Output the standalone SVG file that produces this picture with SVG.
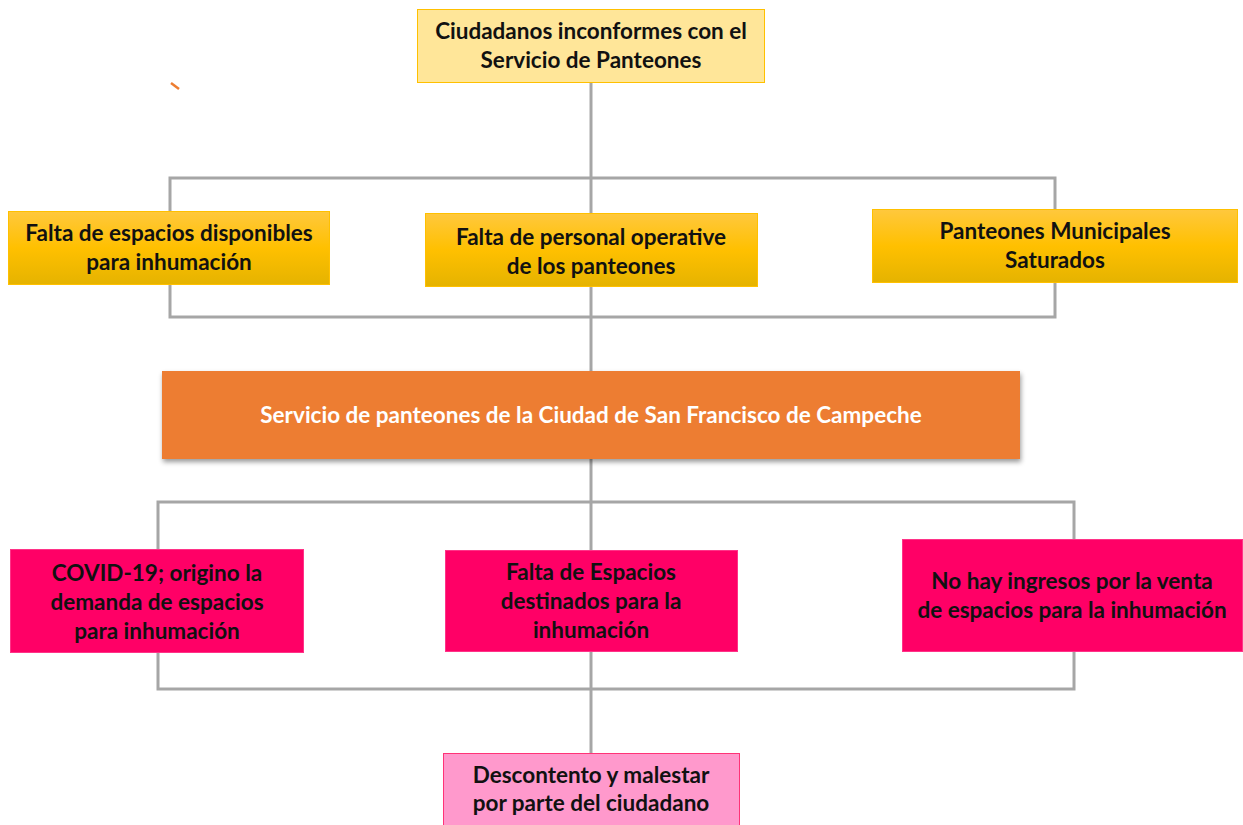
<svg xmlns="http://www.w3.org/2000/svg" width="1243" height="825" viewBox="0 0 1243 825">
<style>
text{font-family:Lato,"Open Sans","Liberation Sans",sans-serif;font-weight:bold;font-size:22.5px;text-anchor:middle;fill:#111}
.w{fill:#fff}
.ln{fill:none;stroke:#A6A6A6;stroke-width:3}
</style>
<defs>
<linearGradient id="gold" x1="0" y1="0" x2="0" y2="1">
<stop offset="0" stop-color="#FFC83D"/>
<stop offset="0.5" stop-color="#FFC000"/>
<stop offset="1" stop-color="#E5B300"/>
</linearGradient>
<filter id="sh" x="-5%" y="-20%" width="110%" height="150%">
<feDropShadow dx="1" dy="3" stdDeviation="2.5" flood-color="#000" flood-opacity="0.4"/>
</filter>
</defs>
<rect width="1243" height="825" fill="#fff"/>
<g id="connectors">
<line class="ln" x1="591" y1="83" x2="591" y2="178"/>
<rect class="ln" x="170" y="178" width="885" height="139"/>
<line class="ln" x1="591" y1="178" x2="591" y2="371"/>
<line class="ln" x1="591" y1="459" x2="591" y2="502"/>
<rect class="ln" x="158" y="502" width="916" height="187"/>
<line class="ln" x1="591" y1="502" x2="591" y2="753"/>
</g>
<line x1="171" y1="83" x2="179" y2="89" stroke="#ED7D31" stroke-width="2.5"/>
<g id="n-top">
<rect x="417.5" y="9.5" width="347" height="73" fill="#FFE699" stroke="#FFC000" stroke-width="1"/>
<text x="591" y="39">Ciudadanos inconformes con el</text>
<text x="591" y="68">Servicio de Panteones</text>
</g>
<g id="n-c1">
<rect x="8.5" y="211.5" width="321" height="73" fill="url(#gold)" stroke="#FFC000" stroke-width="1"/>
<text x="169" y="241">Falta de espacios disponibles</text>
<text x="169" y="270">para inhumación</text>
</g>
<g id="n-c2">
<rect x="425.5" y="213.5" width="332" height="73" fill="url(#gold)" stroke="#FFC000" stroke-width="1"/>
<text x="591" y="245">Falta de personal operative</text>
<text x="591" y="274">de los panteones</text>
</g>
<g id="n-c3">
<rect x="872.5" y="209.5" width="365" height="73" fill="url(#gold)" stroke="#FFC000" stroke-width="1"/>
<text x="1055" y="239">Panteones Municipales</text>
<text x="1055" y="268">Saturados</text>
</g>
<g id="n-main">
<rect x="162" y="371" width="858" height="88" fill="#ED7D31" filter="url(#sh)"/>
<text class="w" x="591" y="423">Servicio de panteones de la Ciudad de San Francisco de Campeche</text>
</g>
<g id="n-e1">
<rect x="10.5" y="549.5" width="293" height="103" fill="#FF0066" stroke="#FF3388" stroke-width="1"/>
<text x="157" y="581">COVID-19; origino la</text>
<text x="157" y="610">demanda de espacios</text>
<text x="157" y="639">para inhumación</text>
</g>
<g id="n-e2">
<rect x="445.5" y="550.5" width="292" height="101" fill="#FF0066" stroke="#FF3388" stroke-width="1"/>
<text x="591" y="580">Falta de Espacios</text>
<text x="591" y="609">destinados para la</text>
<text x="591" y="638">inhumación</text>
</g>
<g id="n-e3">
<rect x="902.5" y="539.5" width="340" height="112" fill="#FF0066" stroke="#FF3388" stroke-width="1"/>
<text x="1072" y="589">No hay ingresos por la venta</text>
<text x="1072" y="618">de espacios para la inhumación</text>
</g>
<g id="n-bottom">
<rect x="443.5" y="753.5" width="296" height="75" fill="#FF99CC" stroke="#FF3377" stroke-width="1"/>
<text x="591" y="783">Descontento y malestar</text>
<text x="591" y="811">por parte del ciudadano</text>
</g>
</svg>
